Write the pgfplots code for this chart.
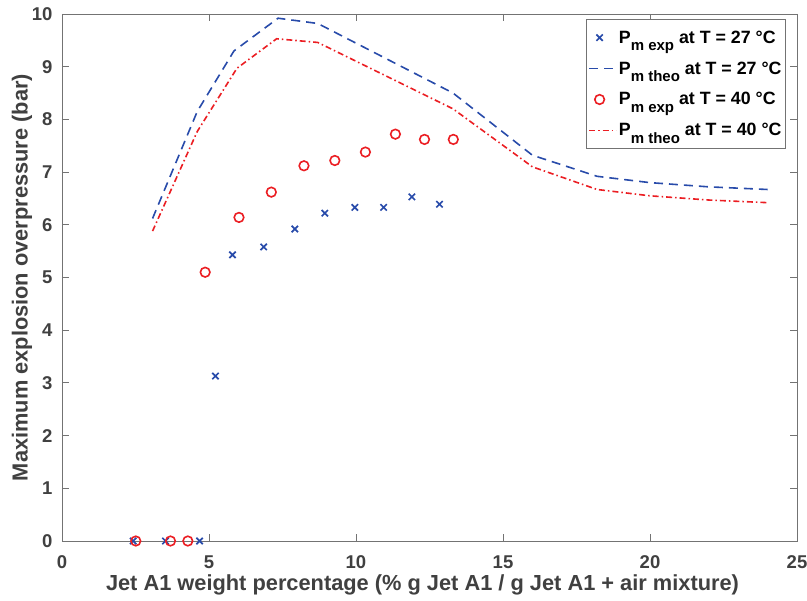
\documentclass[border=0pt]{standalone}
\usepackage{pgfplots}
\pgfplotsset{compat=1.18}
\usepackage{fontspec}
\setmainfont{Liberation Sans}
\definecolor{bl}{RGB}{40,75,170}
\definecolor{rd}{RGB}{235,30,35}
\definecolor{axgray}{RGB}{115,115,115}
\definecolor{txtgray}{RGB}{64,64,64}
\newcommand{\Pm}[1]{P\raisebox{-0.8ex}{\fontsize{15bp}{15bp}\selectfont #1}}
\pgfplotsset{
  linelegend/.style={legend image code/.code={\draw[##1] (0bp,0bp) -- (27bp,0bp);}},
  marklegend/.style={legend image code/.code={\draw[mark repeat=2,mark phase=2,##1] plot coordinates {(-3bp,0bp)(10.5bp,0bp)(24bp,0bp)};}},
}
\begin{document}
\begin{tikzpicture}
\begin{axis}[
  at={(0,0)}, anchor=south west,
  width=735bp, height=527bp, scale only axis,
  xmin=0, xmax=25, ymin=0, ymax=10,
  xtick={0,5,...,25}, ytick={0,1,...,10},
  tick align=inside, xtick pos=both, ytick pos=both,
  xticklabel pos=left, yticklabel pos=left,
  major tick length=7bp,
  axis line style={axgray, line width=0.9bp},
  tick style={axgray, line width=0.9bp},
  /pgf/number format/assume math mode=true,
  ticklabel style={font=\bfseries\fontsize{18.5bp}{22bp}\selectfont, text=txtgray},
  xticklabel style={yshift=-11bp},
  yticklabel style={xshift=-6bp},
  label style={font=\bfseries\fontsize{21.8bp}{24bp}\selectfont, text=txtgray},
  xlabel style={at={(axis description cs:0.5,0)}, anchor=center, yshift=-44bp, xshift=-7bp},
  ylabel style={at={(axis description cs:-0.0544,0.5)}, anchor=center},
  xlabel={Jet A1 weight percentage (\% g Jet A1 / g Jet A1 + air mixture)},
  ylabel={Maximum explosion overpressure (bar)},
  legend style={at={(0.985,0.99)}, anchor=north east, draw=axgray, line width=0.9bp,
    font=\bfseries\fontsize{17.8bp}{21bp}\selectfont, text=black, row sep=13bp, inner sep=2bp,
    inner ysep=9bp, nodes={inner xsep=2bp}},
  legend cell align=left,
]
\addplot[only marks, mark=x, mark size=4.5bp, bl, line width=1.7bp, marklegend] coordinates {
(2.42,0)(3.52,0)(4.68,0)(5.22,3.13)(5.8,5.43)(6.86,5.58)(7.92,5.92)(8.94,6.22)(9.96,6.33)(10.94,6.33)(11.9,6.53)(12.84,6.39)};
\addlegendentry{\Pm{m exp} at T = 27 °C}
\addplot[bl, line width=1.6bp, dash pattern=on 9bp off 6bp, linelegend] coordinates {
(3.08,6.12)(4.6,8.15)(5.85,9.3)(7.35,9.92)(8.7,9.82)(13.3,8.5)(16.0,7.32)(18.2,6.92)(20,6.8)(22,6.72)(24,6.67)};
\addlegendentry{\Pm{m theo} at T = 27 °C}
\addplot[only marks, mark=o, mark size=4.8bp, rd, line width=1.6bp, marklegend] coordinates {
(2.51,0)(3.69,0)(4.28,0)(4.87,5.1)(6.02,6.14)(7.12,6.62)(8.23,7.12)(9.28,7.22)(10.32,7.38)(11.34,7.72)(12.33,7.62)(13.31,7.62)};
\addlegendentry{\Pm{m exp} at T = 40 °C}
\addplot[rd, line width=1.6bp, dash pattern=on 6bp off 3bp on 1.5bp off 3bp, linelegend] coordinates {
(3.08,5.88)(4.6,7.77)(5.95,8.97)(7.3,9.53)(8.7,9.46)(13.3,8.2)(16.0,7.1)(18.2,6.67)(20,6.55)(22,6.47)(24,6.42)};
\addlegendentry{\Pm{m theo} at T = 40 °C}
\end{axis}
\pgfresetboundingbox
\path (-62bp,-60bp) rectangle (745bp,541bp);
\end{tikzpicture}
\end{document}
